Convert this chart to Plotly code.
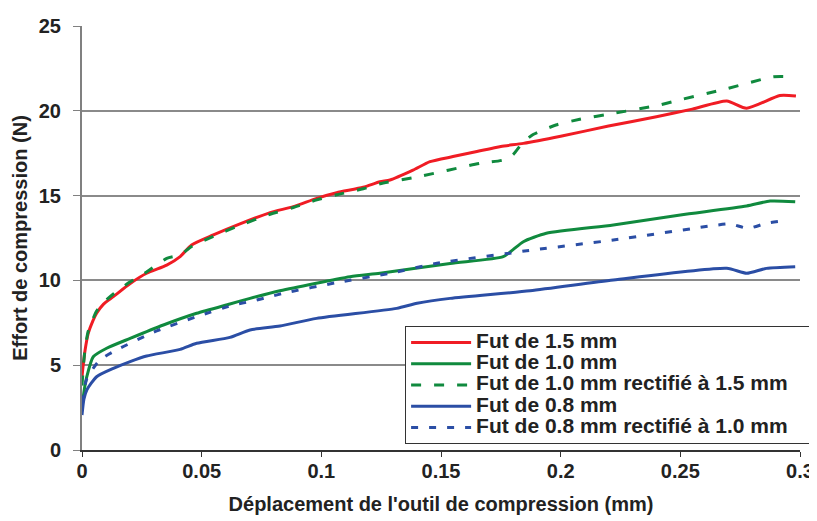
import plotly.graph_objects as go

# ---- data ----
red_x = [0, 0.0005, 0.0013, 0.0026, 0.0045, 0.0061, 0.009, 0.0131, 0.02, 0.027, 0.0354, 0.041,
         0.0458, 0.0549, 0.066, 0.0786, 0.0883, 0.0981, 0.1064, 0.1175, 0.1245, 0.1287, 0.1383,
         0.1454, 0.155, 0.165, 0.175, 0.1844, 0.2, 0.22, 0.24, 0.255, 0.2694, 0.2777, 0.2916, 0.2983]
red_y = [4.3, 5.0, 5.9, 6.88, 7.6, 8.06, 8.6, 9.04, 9.8, 10.42, 10.9, 11.4,
         12.09, 12.68, 13.33, 14.0, 14.35, 14.84, 15.17, 15.49, 15.82, 15.92, 16.5,
         17.0, 17.3, 17.6, 17.9, 18.08, 18.5, 19.1, 19.65, 20.1, 20.58, 20.15, 20.9, 20.87]

green_dash_x = [0, 0.0005, 0.0013, 0.0026, 0.0045, 0.0061, 0.009, 0.0131, 0.02, 0.027, 0.0354, 0.041,
                0.0458, 0.0549, 0.066, 0.0786, 0.0883, 0.0981, 0.1064, 0.1175, 0.1245, 0.14, 0.1663,
                0.176, 0.18, 0.184, 0.1885, 0.198, 0.208, 0.222, 0.24, 0.2485, 0.2694, 0.2888, 0.2971]
green_dash_y = [3.8, 4.8, 6.0, 7.0, 7.7, 8.2, 8.7, 9.2, 9.9, 10.5, 11.3, 11.5,
                12.0, 12.6, 13.25, 13.9, 14.3, 14.75, 15.05, 15.4, 15.7, 16.1, 16.9,
                17.1, 17.4, 18.1, 18.6, 19.16, 19.5, 19.85, 20.3, 20.6, 21.3, 22.0, 22.0]

green_x = [0, 0.001, 0.002, 0.0047, 0.0103, 0.0201, 0.034, 0.0479, 0.0618, 0.0702, 0.0827, 0.112,
           0.1245, 0.1538, 0.176, 0.18, 0.1844, 0.194, 0.222, 0.25, 0.2777, 0.2875, 0.298]
green_y = [2.5, 3.6, 4.32, 5.5, 6.0, 6.58, 7.37, 8.06, 8.61, 8.94, 9.39, 10.22,
           10.42, 11.0, 11.4, 11.8, 12.28, 12.78, 13.27, 13.86, 14.39, 14.68, 14.64]

blue_x = [0, 0.0008, 0.002, 0.0061, 0.0131, 0.0201, 0.027, 0.041, 0.0479, 0.0618, 0.0702, 0.0827,
          0.098, 0.1315, 0.14, 0.1538, 0.1872, 0.222, 0.2694, 0.2777, 0.286, 0.298]
blue_y = [2.06, 3.0, 3.54, 4.32, 4.81, 5.21, 5.54, 5.93, 6.29, 6.64, 7.08, 7.31,
          7.76, 8.35, 8.65, 8.94, 9.39, 10.02, 10.71, 10.42, 10.71, 10.81]

blue_dash_x = [0, 0.002, 0.0075, 0.0159, 0.0312, 0.0479, 0.0632, 0.0702, 0.0786, 0.0841, 0.1064,
               0.1287, 0.1496, 0.18, 0.1858, 0.222, 0.2637, 0.2708, 0.2783, 0.286, 0.2937]
blue_dash_y = [2.8, 4.2, 5.31, 6.0, 7.02, 7.86, 8.55, 8.75, 9.04, 9.24, 9.87,
               10.42, 11.04, 11.63, 11.75, 12.38, 13.23, 13.33, 13.07, 13.37, 13.52]

series_names = ["Fut de 1.5 mm", "Fut de 1.0 mm", "Fut de 1.0 mm rectifié à 1.5 mm",
                "Fut de 0.8 mm", "Fut de 0.8 mm rectifié à 1.0 mm"]

x_ticks = [0, 0.05, 0.1, 0.15, 0.2, 0.25, 0.3]
x_tick_labels = ["0", "0.05", "0.1", "0.15", "0.2", "0.25", "0.3"]
y_ticks = [0, 5, 10, 15, 20, 25]

RED = "#f01c24"
GREEN = "#108a3e"
BLUE = "#2b4ea5"
FONT = "Liberation Sans, Arial, sans-serif"
TXT = "#222222"

fig = go.Figure()
series = [
    (series_names[0], red_x, red_y, RED, "solid"),
    (series_names[1], green_x, green_y, GREEN, "solid"),
    (series_names[2], green_dash_x, green_dash_y, GREEN, "10px,13px"),
    (series_names[3], blue_x, blue_y, BLUE, "solid"),
    (series_names[4], blue_dash_x, blue_dash_y, BLUE, "7px,11px"),
]
for name, xs, ys, col, dash in series:
    fig.add_trace(go.Scatter(
        x=xs, y=ys, mode="lines",
        name='<span style="font-size:21px">' + name + '&nbsp;&nbsp;&nbsp;</span>',
        line=dict(color=col, width=3, dash=dash, shape="spline", smoothing=0.6),
    ))

# The page body adds an 8px offset; the figure is sized to fit the 817x521 window.
fig.update_layout(
    width=809, height=513,
    margin=dict(l=74, r=17, t=18, b=71, autoexpand=False),
    paper_bgcolor="white", plot_bgcolor="white",
    font=dict(family=FONT, size=16, color=TXT),
    showlegend=True,
    legend=dict(
        x=0.45, y=0.2925, xanchor="left", yanchor="top",
        bgcolor="white", bordercolor="#333333", borderwidth=1,
        font=dict(family=FONT, size=14, color=TXT, weight="bold"),
        tracegroupgap=0, itemwidth=60,
    ),
    xaxis=dict(
        range=[0, 0.3], tickvals=x_ticks, ticktext=x_tick_labels,
        showgrid=False, zeroline=False, automargin=False,
        showline=True, linecolor="#333333", linewidth=1.5,
        ticks="outside", ticklen=5, tickcolor="#333333", tickwidth=1,
        ticklabelstandoff=-3,
        tickfont=dict(family=FONT, size=20, color=TXT, weight="bold"),
        title=dict(text="Déplacement de l'outil de compression (mm)", standoff=16,
                   font=dict(family=FONT, size=20, color=TXT, weight="bold")),
    ),
    yaxis=dict(
        range=[0, 25], tickvals=y_ticks,
        showgrid=True, gridcolor="#8a8a8a", gridwidth=1.5, zeroline=False, automargin=False,
        showline=True, linecolor="#808080", linewidth=2,
        ticks="outside", ticklen=7, tickcolor="#808080", tickwidth=1,
        ticklabelstandoff=8,
        tickfont=dict(family=FONT, size=20, color=TXT, weight="bold"),
        title=dict(text="Effort de compression (N)", standoff=6,
                   font=dict(family=FONT, size=20, color=TXT, weight="bold")),
    ),
)

fig.write_html("out.html")
